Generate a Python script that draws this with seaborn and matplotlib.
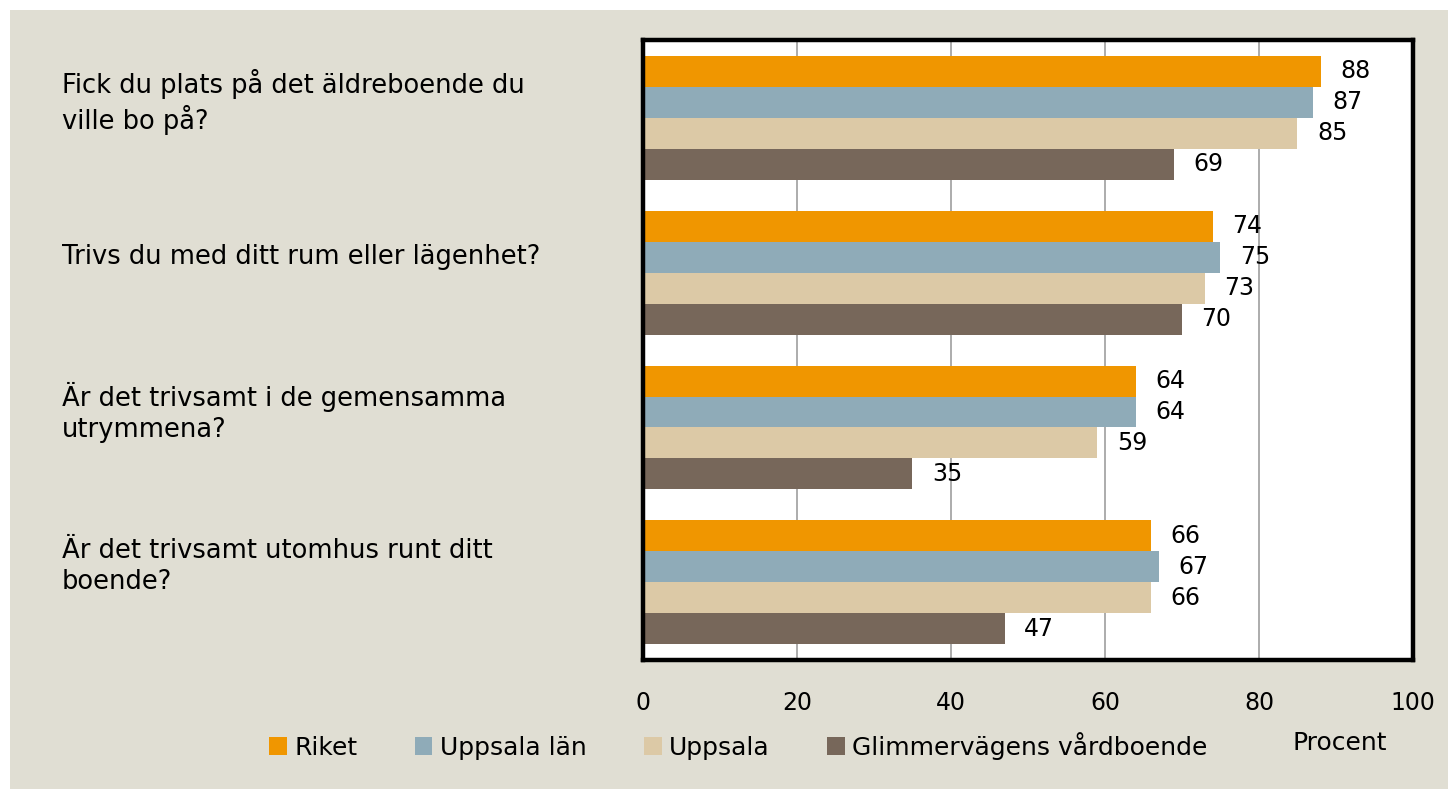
import pandas as pd
import seaborn as sns
import matplotlib.pyplot as plt
import matplotlib.transforms as mtransforms
from matplotlib.patches import Rectangle, Patch

# data
questions = [
    "Fick du plats på det äldreboende du\nville bo på?",
    "Trivs du med ditt rum eller lägenhet?",
    "Är det trivsamt i de gemensamma\nutrymmena?",
    "Är det trivsamt utomhus runt ditt\nboende?",
]
series = ["Riket", "Uppsala län", "Uppsala", "Glimmervägens vårdboende"]
riket = [88, 74, 64, 66]
uppsala_lan = [87, 75, 64, 67]
uppsala = [85, 73, 59, 66]
glimmervagen = [69, 70, 35, 47]
colors = ["#F09600", "#8FABB8", "#DCC9A6", "#77675A"]
bg = "#E0DED3"

values = [riket, uppsala_lan, uppsala, glimmervagen]
rows = []
for s, vals in zip(series, values):
    for q, v in zip(questions, vals):
        rows.append({"Fråga": q, "Serie": s, "Procent": v})
df = pd.DataFrame(rows)

sns.set_style("white")
plt.rcParams["font.family"] = ["DejaVu Sans"]
plt.rcParams["font.size"] = 17
plt.rcParams["text.color"] = "black"
plt.rcParams["xtick.color"] = "black"

fig = plt.figure(figsize=(14.48, 7.89), dpi=100)
fig.patch.set_facecolor("white")
fig.patches.append(Rectangle((10 / 1448, 0), 1, 1 - 10 / 789, transform=fig.transFigure,
                             facecolor=bg, edgecolor="none", zorder=-10))

ax = fig.add_axes([0.444, 0.1635, 0.5318, 0.7858])
ax.set_facecolor("white")
sns.barplot(data=df, x="Procent", y="Fråga", hue="Serie", orient="h",
            palette=colors, order=questions, hue_order=series, saturation=1,
            width=0.8, edgecolor="none", ax=ax, legend=False)

for cont in ax.containers:
    ax.bar_label(cont, padding=14, fontsize=17, color="black")

ax.set_xlim(0, 100)
ax.set_xticks([0, 20, 40, 60, 80, 100])
ax.tick_params(axis="x", length=0, pad=22, labelsize=17, labelcolor="black")
ax.set_yticks([])
ax.set_xlabel("")
ax.set_ylabel("")
ax.xaxis.grid(True, color="#A6A6A6", linewidth=1.3)
ax.set_axisbelow(True)
for sp in ax.spines.values():
    sp.set_color("black")
    sp.set_linewidth(3.2)

# question labels on the left
trans = mtransforms.blended_transform_factory(fig.transFigure, ax.transData)
for i, q in enumerate(questions):
    ax.text(62 / 1448, i - 0.1, q, transform=trans, ha="left", va="center",
            fontsize=18.5, linespacing=1.25, color="black")

handles = [Patch(facecolor=c, edgecolor="none") for c in colors]
fig.legend(handles, series, loc="center", bbox_to_anchor=(0.51, 0.0545), ncol=4,
           frameon=False, fontsize=18, handlelength=0.7, handleheight=0.7,
           handletextpad=0.3, columnspacing=2.3)
fig.text(0.925, 0.058, "Procent", ha="center", va="center", fontsize=18)

fig.savefig("out.png", dpi=100, facecolor=fig.get_facecolor())
